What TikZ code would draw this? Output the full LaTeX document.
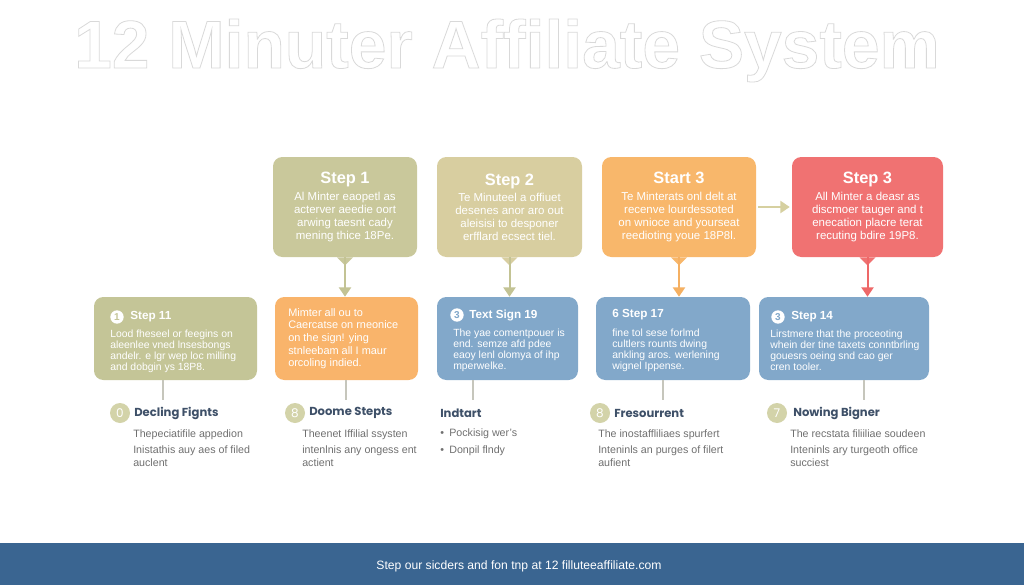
\documentclass[tikz,border=0pt]{standalone}
\usepackage{fontspec}
\setmainfont{Liberation Sans}
\newfontfamily\headfont{Poppins}
\usetikzlibrary{arrows.meta}
\definecolor{oliveT}{HTML}{C9C89B}
\definecolor{tanT}{HTML}{D8CEA0}
\definecolor{orangeT}{HTML}{F8B76B}
\definecolor{redT}{HTML}{F07272}
\definecolor{oliveM}{HTML}{C4C597}
\definecolor{orangeM}{HTML}{F9B46B}
\definecolor{blueM}{HTML}{82A8CA}
\definecolor{arrOlive}{HTML}{C3C394}
\definecolor{arrTan}{HTML}{D6D0A0}
\definecolor{arrOrange}{HTML}{F5B062}
\definecolor{arrRed}{HTML}{EE6868}
\definecolor{linkgray}{HTML}{C6C6BC}
\definecolor{dotfill}{HTML}{D3D3A9}
\definecolor{headblue}{HTML}{3E5068}
\definecolor{descgray}{HTML}{707070}
\definecolor{footblue}{HTML}{3A6591}
\tikzset{
  topbox/.style={rounded corners=7pt, inner sep=0pt, minimum height=75pt, align=center, text=white, font=\fontsize{8.6}{9.6}\selectfont},
  midbox/.style={rounded corners=7pt, inner sep=0pt, minimum height=62.25pt},
  midtitle/.style={anchor=west, inner sep=0pt, text=white, font=\fontsize{8.8}{10}\selectfont\bfseries},
  midbody/.style={anchor=north west, inner sep=0pt, align=left, text=white, font=\fontsize{7.8}{8.2}\selectfont},
  numdot/.style={circle, fill=white, inner sep=0pt, minimum size=10pt, font=\fontsize{7.5}{8}\selectfont\bfseries},
  flowarrow/.style={line width=1.5pt, -{Triangle[width=9pt,length=7pt]}},
  link/.style={draw=linkgray, line width=0.8pt},
  bdot/.style={circle, fill=dotfill, text=white, inner sep=0pt, minimum size=15pt, font=\headfont\fontsize{9}{9}\selectfont},
  bhead/.style={anchor=west, inner sep=0pt, text=headblue, font=\headfont\bfseries\fontsize{8.7}{10}\selectfont},
  bdesc/.style={anchor=north west, inner sep=0pt, align=left, text=descgray, font=\fontsize{8}{9.2}\selectfont},
  titletext/.style={anchor=base, inner sep=0pt, font=\fontsize{50.8}{56}\selectfont\bfseries},
}
\begin{document}
\begin{tikzpicture}[x=0.75pt,y=-0.75pt]
\useasboundingbox (0,0) rectangle (1024,585);
\fill[white] (0,0) rectangle (1024,585);

% top row
\node[topbox, fill=oliveT, minimum width=108pt] (t1) at (345,207)
  {{\fontsize{12.3}{14}\selectfont\bfseries Step 1}\\[3pt]Al Minter eaopetl as\\acterver aeedie oort\\arwing taesnt cady\\mening thice 18Pe.};
\node[topbox, fill=tanT, minimum width=108.75pt] (t2) at (509.5,207)
  {{\fontsize{12.3}{14}\selectfont\bfseries Step 2}\\[3pt]Te Minuteel a offiuet\\desenes anor aro out\\aleisisi to desponer\\erfflard ecsect tiel.};
\node[topbox, fill=orangeT, minimum width=115.5pt] (t3) at (679,207)
  {{\fontsize{12.3}{14}\selectfont\bfseries Start 3}\\[3pt]Te Minterats onl delt at\\recenve lourdessoted\\on wnioce and yourseat\\reedioting youe 18P8l.};
\node[topbox, fill=redT, minimum width=113.25pt] (t4) at (867.5,207)
  {{\fontsize{12.3}{14}\selectfont\bfseries Step 3}\\[3pt]All Minter a deasr as\\discmoer tauger and t\\enecation placre terat\\recuting bdire 19P8.};

% middle row
\node[midbox, fill=oliveM, minimum width=122.25pt] (m1) at (175.5,338.5) {};
\node[midbox, fill=orangeM, minimum width=107.25pt] (m2) at (346.5,338.5) {};
\node[midbox, fill=blueM, minimum width=105.75pt] (m3) at (507.5,338.5) {};
\node[midbox, fill=blueM, minimum width=115.5pt] (m4) at (673,338.5) {};
\node[midbox, fill=blueM, minimum width=127.5pt] (m5) at (844,338.5) {};

% callout tails and arrows
\fill[oliveT] ([xshift=-6pt]t1.south) -- ([xshift=6pt]t1.south) -- ([yshift=-6pt]t1.south) -- cycle;
\draw[flowarrow, arrOlive] (t1.south) -- (t1.south |- m2.north);
\fill[tanT] ([xshift=-6pt]t2.south) -- ([xshift=6pt]t2.south) -- ([yshift=-6pt]t2.south) -- cycle;
\draw[flowarrow, arrOlive] (t2.south) -- (t2.south |- m3.north);
\fill[orangeT] ([xshift=-6pt]t3.south) -- ([xshift=6pt]t3.south) -- ([yshift=-6pt]t3.south) -- cycle;
\draw[flowarrow, arrOrange] (t3.south) -- (t3.south |- m4.north);
\fill[redT] ([xshift=-6pt]t4.south) -- ([xshift=6pt]t4.south) -- ([yshift=-6pt]t4.south) -- cycle;
\draw[flowarrow, arrRed] (t4.south) -- (t4.south |- m5.north);
\draw[flowarrow, arrTan] ([xshift=1.5pt]t3.east) -- ([xshift=-1.5pt]t4.west);

% middle texts
\node[numdot, text=oliveM] (m1n) at (117,317) {1};
\node[midtitle] (m1t) at (130,317) {Step 11};
\node[midbody] (m1b) at (110,330) {Lood fheseel or feegins on\\aleenlee vned lnsesbongs\\andelr. e lgr wep loc milling\\and dobgin ys 18P8.};

\node[midbody, font=\fontsize{8.2}{9.5}\selectfont] (m2b) at (288,308) {Mimter all ou to\\Caercatse on rneonice\\on the sign! ying\\stnleebam all I maur\\orcoling indied.};

\node[numdot, text=blueM] (m3n) at (457,315) {3};
\node[midtitle] (m3t) at (469,315) {Text Sign 19};
\node[midbody] (m3b) at (453,329) {The yae comentpouer is\\end. semze afd pdee\\eaoy lenl olomya of ihp\\mperwelke.};

\node[midtitle] (m4t) at (612,315) {6 Step 17};
\node[midbody] (m4b) at (612,329) {fine tol sese forlmd\\cultlers rounts dwing\\ankling aros. werlening\\wignel Ippense.};

\node[numdot, text=blueM] (m5n) at (778,317) {3};
\node[midtitle] (m5t) at (791,317) {Step 14};
\node[midbody] (m5b) at (770,330) {Lirstmere that the proceoting\\whein der tine taxets conntbrling\\gouesrs oeing snd cao ger\\cren tooler.};

% links to bottom section
\coordinate (c1) at (163,400);
\coordinate (c2) at (346,400);
\coordinate (c3) at (473,400);
\coordinate (c4) at (663,400);
\coordinate (c5) at (864,400);
\draw[link] (c1 |- m1.south) -- (c1);
\draw[link] (c2 |- m2.south) -- (c2);
\draw[link] (c3 |- m3.south) -- (c3);
\draw[link] (c4 |- m4.south) -- (c4);
\draw[link] (c5 |- m5.south) -- (c5);

% bottom section
\node[bdot] (b1n) at (120,413) {0};
\node[bhead] (b1h) at (134,413) {Decling Fignts};
\node[bdesc] (b1d) at (133,429) {Thepeciatifile appedion\\[3.5pt]Inistathis auy aes of filed\\auclent};

\node[bdot] (b2n) at (295,413) {8};
\node[bhead] (b2h) at (309,413) {Doome Stepts};
\node[bdesc] (b2d) at (302,429) {Theenet Iffilial ssysten\\[3.5pt]intenlnis any ongess ent\\actient};

\node[bhead] (b3h) at (440,413) {Indtart};
\node[bdesc] (b3d) at (440,429) {\textbullet\enspace Pockisig wer's\\[3.5pt]\textbullet\enspace Donpil flndy};

\node[bdot] (b4n) at (600,413) {8};
\node[bhead] (b4h) at (614,413) {Fresourrent};
\node[bdesc] (b4d) at (598,429) {The inostaffliliaes spurfert\\[3.5pt]Inteninls an purges of filert\\aufient};

\node[bdot] (b5n) at (777,413) {7};
\node[bhead] (b5h) at (793,413) {Nowing Bigner};
\node[bdesc] (b5d) at (790,429) {The recstata filiiliae soudeen\\[3.5pt]Inteninls ary turgeoth office\\succiest};

% footer
\fill[footblue] (0,543) rectangle (1024,585);
\node[text=white, font=\fontsize{9.1}{11}\selectfont] (foot) at (519,566) {Step our sicders and fon tnp at 12 filluteeaffiliate.com};

% title: outlined letters (stroke only), drawn last
\node[titletext, text=white] (title) at (507,68)
  {\special{pdf:literal direct 0.85 0.85 0.85 RG 0.6 w 1 Tr}12 Minuter Affiliate System\special{pdf:literal direct 0 Tr}};
\end{tikzpicture}
\end{document}
